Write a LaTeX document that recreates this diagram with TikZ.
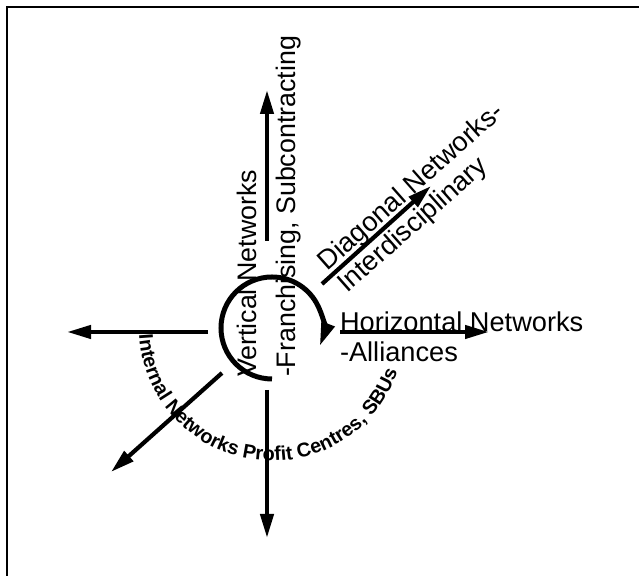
\documentclass[tikz,border=0pt]{standalone}
\usepackage{fontspec}
\setmainfont{Liberation Sans}
\usepackage{tikz}
\usetikzlibrary{arrows.meta, decorations.text}

\begin{document}
\begin{tikzpicture}[x=0.5pt, y=0.5pt, >={Triangle[length=12pt, width=6.5pt]},
  netarrow/.style={->, line width=2.1pt},
  cyclearrow/.style={->, line width=2.5pt},
  netlabel/.style={inner sep=0pt, outer sep=0pt, align=left, font=\fontsize{13.6}{15}\selectfont},
  frameline/.style={line width=0.7pt}]

\useasboundingbox (0,0) rectangle (639,576);
\draw[frameline] (7,-4) -- (7,569) -- (645,569);

\coordinate (hub) at (272,248);
\coordinate (upT) at (267,335);    \coordinate (upH) at (267,486);
\coordinate (diagT) at (322,292);  \coordinate (diagH) at (431,390);
\coordinate (horizT) at (340,244); \coordinate (horizH) at (489,244);
\coordinate (downT) at (267,186);  \coordinate (downH) at (267,38);
\coordinate (swT) at (222,203);    \coordinate (swH) at (111,104);
\coordinate (leftT) at (208,244);  \coordinate (leftH) at (67,244);

\node[netlabel, rotate=90, anchor=south west, font=\fontsize{13.4}{19.5}\selectfont] (vert) at (301,199) {Vertical Networks\\-Franchising, Subcontracting};
\node[netlabel, rotate=41.5, anchor=south west, font=\fontsize{13.6}{15}\selectfont] (diag) at (351,278) {Diagonal Networks-\\Interdisciplinary};
\node[netlabel, anchor=south west] (horiz) at (340,214) {Horizontal Networks\\-Alliances};

\path[decorate, decoration={text along path, text align=left,
  text={|\bfseries\fontsize{9.9}{11}\selectfont|Internal Networks Profit Centres, SBUs}}]
  ([shift={(183:133)}]hub) arc[start angle=183, end angle=360, radius=133];

\draw[netarrow] (upT) -- (upH);
\draw[netarrow] (diagT) -- (diagH);
\draw[netarrow] (horizT) -- (horizH);
\draw[netarrow] (downT) -- (downH);
\draw[netarrow] (swT) -- (swH);
\draw[netarrow] (leftT) -- (leftH);
\draw[cyclearrow] ([shift={(270:51)}]hub) arc[start angle=270, end angle=-21, radius=51];

\end{tikzpicture}
\end{document}
